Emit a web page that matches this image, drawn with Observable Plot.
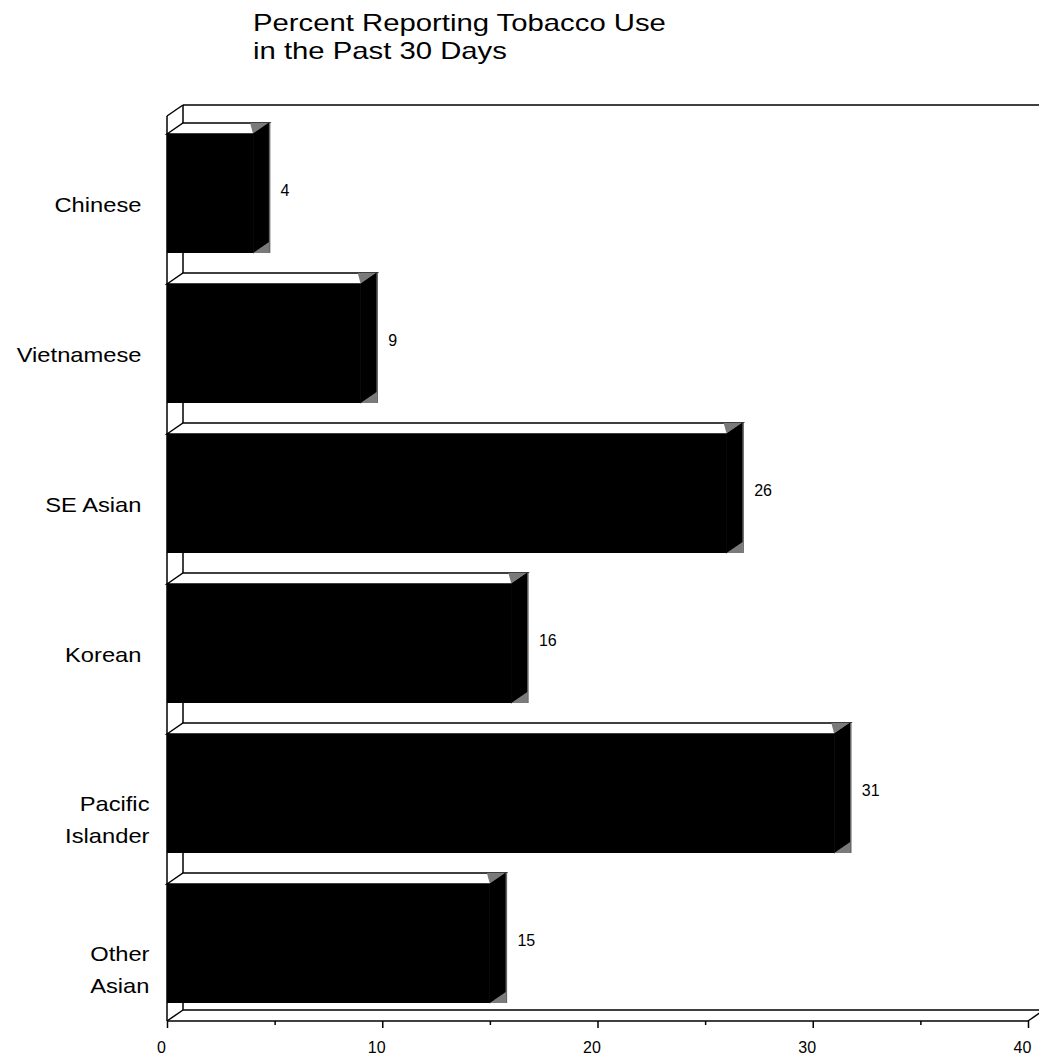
<!DOCTYPE html>
<html>
<head>
<meta charset="utf-8">
<script src="https://cdn.jsdelivr.net/npm/d3@7"></script>
<script src="https://cdn.jsdelivr.net/npm/@observablehq/plot@0.6"></script>
<style>
  body { margin: 0; background: #fff; font-family: "Liberation Sans", Arial, sans-serif; }
  #chart { width: 1039px; }
  .title { position: relative; height: 90px; }
  .title span {
    position: absolute; left: 253px; top: 9px;
    font-size: 24px; line-height: 28px; color: #000;
    transform: scaleX(1.22); transform-origin: 0 0; white-space: nowrap;
  }
</style>
</head>
<body>
<div id="chart">
  <div class="title"><span>Percent Reporting Tobacco Use<br>in the Past 30 Days</span></div>
</div>
<script>
// Survey groups and the percent of each reporting tobacco use in the past 30 days
const groups = ["Chinese", "Vietnamese", "SE Asian", "Korean", "Pacific\nIslander", "Other\nAsian"];
const percents = [4, 9, 26, 16, 31, 15];
const majorTicks = [0, 10, 20, 30, 40];
const minorTicks = [5, 15, 25, 35];

const rows = groups.map((group, i) => ({group, value: percents[i]}));
const oneLine = rows.filter(d => !d.group.includes("\n"));
const twoLine = rows.filter(d => d.group.includes("\n"));

// depth of the pseudo-3D box (pixels to the right and up)
const DEPTH_X = 16, DEPTH_Y = -11;
const STRETCH = 1.13; // category names are drawn slightly wide

const font = '"Liberation Sans", Arial, sans-serif';
const groupLabel = {x: 0, y: "group", text: "group", textAnchor: "end", fontSize: 21, lineHeight: 1.5, fill: "#000"};

const plot = Plot.plot({
  width: 1039,
  height: 969,
  marginLeft: 167,
  marginRight: 11,
  marginTop: 26,
  marginBottom: 38,
  style: {fontFamily: font, color: "#000", background: "#fff", overflow: "visible"},
  x: {domain: [0, 40]},
  y: {domain: groups, paddingInner: 0.21, paddingOuter: 0.105, axis: null},
  marks: [
    Plot.axisX(majorTicks, {tickSize: 7, tickFormat: () => "", label: null, strokeWidth: 1.5}),
    Plot.axisX(minorTicks, {tickSize: 4, tickFormat: () => "", label: null, strokeWidth: 1.5}),
    Plot.barX(rows, {x: "value", y: "group", fill: "#000"}),
    Plot.text(rows, {x: "value", y: "group", text: d => String(d.value), textAnchor: "start", dx: 27, dy: -3, fontSize: 16, fill: "#000"}),
    Plot.text(oneLine, {...groupLabel, dx: -26, dy: 8}),
    Plot.text(twoLine, {...groupLabel, dx: -18, dy: 23}),
    Plot.text(majorTicks, {x: d => d, frameAnchor: "bottom", dy: 31, dx: -6, text: d => String(d), fontSize: 16, fill: "#000"})
  ]
});

document.getElementById("chart").appendChild(plot);

const svg = d3.select(plot);
const sx = plot.scale("x"), sy = plot.scale("y");
const X = v => sx.apply(v);
const bw = sy.bandwidth;
const [yTop, yBottom] = sy.range;
const x0 = X(0), x1 = X(40);

// back wall, floor and front edges of the box, behind the bars
const frame = svg.insert("g", "g")
  .attr("stroke", "#000").attr("stroke-width", 1.5).attr("fill", "none");
const seg = (g, a, b) => g.append("line")
  .attr("x1", a[0]).attr("y1", a[1]).attr("x2", b[0]).attr("y2", b[1]);

seg(frame, [x0 + DEPTH_X, yTop + DEPTH_Y], [x0 + DEPTH_X, yBottom + DEPTH_Y]);
seg(frame, [x0 + DEPTH_X, yTop + DEPTH_Y], [x1 + DEPTH_X, yTop + DEPTH_Y]);
seg(frame, [x1 + DEPTH_X, yTop + DEPTH_Y], [x1 + DEPTH_X, yBottom + DEPTH_Y]);
seg(frame, [x0 + DEPTH_X, yBottom + DEPTH_Y], [x1 + DEPTH_X, yBottom + DEPTH_Y]);
seg(frame, [x0, yTop], [x0, yBottom]);
seg(frame, [x0, yBottom], [x1, yBottom]);
seg(frame, [x0, yTop], [x0 + DEPTH_X, yTop + DEPTH_Y]);
seg(frame, [x0, yBottom], [x0 + DEPTH_X, yBottom + DEPTH_Y]);
seg(frame, [x1, yBottom], [x1 + DEPTH_X, yBottom + DEPTH_Y]);

// top and side faces of each bar
const faces = svg.append("g");
const poly = pts => pts.map(p => p.join(",")).join(" ");
for (const d of rows) {
  const yT = sy.apply(d.group), yB = yT + bw, xv = X(d.value);
  faces.append("polygon")
    .attr("points", poly([[x0, yT], [x0 + DEPTH_X, yT + DEPTH_Y], [xv + DEPTH_X, yT + DEPTH_Y], [xv, yT]]))
    .attr("fill", "#fff").attr("stroke", "#000").attr("stroke-width", 1.5);
  faces.append("polygon")
    .attr("points", poly([[xv - 3, yT + DEPTH_Y], [xv + DEPTH_X, yT + DEPTH_Y], [xv, yT]]))
    .attr("fill", "#7a7a7a");
  faces.append("polygon")
    .attr("points", poly([[xv, yT], [xv + DEPTH_X, yT + DEPTH_Y], [xv + DEPTH_X, yB + DEPTH_Y], [xv, yB]]))
    .attr("fill", "#000").attr("stroke", "#000").attr("stroke-width", 1);
  faces.append("polygon")
    .attr("points", poly([[xv, yB], [xv + DEPTH_X, yB + DEPTH_Y], [xv + DEPTH_X, yB]]))
    .attr("fill", "#7a7a7a");
  faces.append("line")
    .attr("x1", xv + DEPTH_X + 0.5).attr("y1", yT + DEPTH_Y).attr("x2", xv + DEPTH_X + 0.5).attr("y2", yB)
    .attr("stroke", "#666").attr("stroke-width", 1.5);
}

// widen the category names about their anchor points
svg.selectAll("text").each(function() {
  if (!isNaN(+this.textContent)) return;
  const t = this.getAttribute("transform");
  if (t) this.setAttribute("transform", `${t} scale(${STRETCH},1)`);
});
</script>
</body>
</html>
